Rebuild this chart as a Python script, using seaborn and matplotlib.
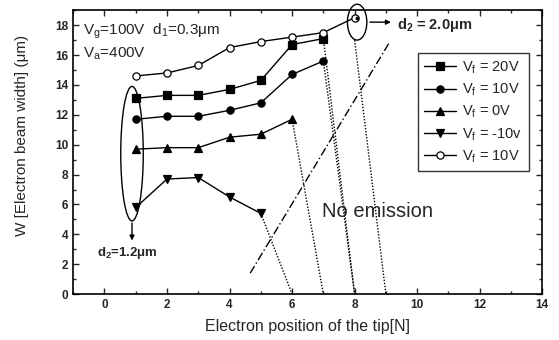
import matplotlib
matplotlib.use("Agg")
import matplotlib.pyplot as plt
from matplotlib.patches import Ellipse
from matplotlib.ticker import MultipleLocator
import seaborn as sns
import pandas as pd

sns.set_theme(style="ticks")
plt.rcParams['font.family'] = ['Liberation Sans', 'DejaVu Sans']
plt.rcParams['mathtext.fontset'] = 'custom'
plt.rcParams['mathtext.rm'] = 'Liberation Sans'
plt.rcParams['mathtext.it'] = 'Liberation Sans'

# Data
x_20 = [1, 2, 3, 4, 5, 6, 7]
w_20 = [13.1, 13.3, 13.3, 13.7, 14.3, 16.7, 17.1]
x_10 = [1, 2, 3, 4, 5, 6, 7]
w_10 = [11.7, 11.9, 11.9, 12.3, 12.8, 14.7, 15.6]
x_0 = [1, 2, 3, 4, 5, 6]
w_0 = [9.7, 9.8, 9.8, 10.5, 10.7, 11.7]
x_m10 = [1, 2, 3, 4, 5]
w_m10 = [5.8, 7.7, 7.8, 6.5, 5.4]
x_open = [1, 2, 3, 4, 5, 6, 7, 8]
w_open = [14.6, 14.8, 15.3, 16.5, 16.9, 17.2, 17.5, 18.5]
labels = ["$\\mathregular{V_f}$ = 20V", "$\\mathregular{V_f}$ = 10V", "$\\mathregular{V_f}$ = 0V",
          "$\\mathregular{V_f}$ = -10v", "$\\mathregular{V_f}$ = 10V"]

# cut-off (no emission) dotted lines: start point -> end point
cut_start_x = [5, 6, 7, 7, 8]
cut_start_y = [5.4, 11.7, 15.6, 17.1, 17.0]
cut_end_x = [6, 7, 8, 8, 9]
cut_end_y = [0, 0, 0, 0, 0]
# boundary dash-dot line
bound_x = [4.66, 9.1]
bound_y = [1.4, 16.8]

fig = plt.figure(figsize=(5.59, 3.40), dpi=100)
ax = fig.add_axes([0.131, 0.135, 0.839, 0.835])

series = [
    (x_20, w_20, 's', 'black'),
    (x_10, w_10, 'o', 'black'),
    (x_0, w_0, '^', 'black'),
    (x_m10, w_m10, 'v', 'black'),
    (x_open, w_open, 'o', 'white'),
]
for (xs, ys, m, fc), lab in zip(series, labels):
    df = pd.DataFrame({"x": xs, "y": ys})
    sns.lineplot(data=df, x="x", y="y", ax=ax, color='black', lw=1.0,
                 marker=m, markersize=5.2, markerfacecolor=fc,
                 markeredgecolor='black', markeredgewidth=0.9, label=lab)

for sx, sy, ex, ey in zip(cut_start_x, cut_start_y, cut_end_x, cut_end_y):
    ax.plot([sx, ex], [sy, ey], color='black', ls=(0, (1, 1.2)), lw=1.0)
ax.plot(bound_x, bound_y, color='black', ls=(0, (6, 2, 1, 2)), lw=1.0)

# ellipses
ax.add_patch(Ellipse((0.88, 9.4), 0.72, 9.0, fill=False, ec='black', lw=1.0))
ax.add_patch(Ellipse((8.08, 18.2), 0.62, 2.4, fill=False, ec='black', lw=1.0, clip_on=False))
ax.plot([8.08], [18.5], marker='o', ms=1.8, color='black')
ax.annotate("", xy=(0.88, 3.4), xytext=(0.88, 4.95),
            arrowprops=dict(arrowstyle='-|>', color='black', lw=1.0, mutation_scale=7))
ax.annotate("", xy=(9.25, 18.2), xytext=(8.4, 18.2),
            arrowprops=dict(arrowstyle='-|>', color='black', lw=1.0, mutation_scale=7))

ax.text(-0.25, 2.75, "$\\mathregular{d_2}$=1.2μm", fontsize=9.5, fontweight='bold', va='center')
ax.text(9.35, 18.0, "$\\mathregular{d_2}$ = 2.0μm", fontsize=10.5, fontweight='bold', va='center')
ax.text(-0.68, 17.6, "$\\mathregular{V_g}$=100V  $\\mathregular{d_1}$=0.3μm", fontsize=11, va='center')
ax.text(-0.68, 16.1, "$\\mathregular{V_a}$=400V", fontsize=11, va='center')
ax.text(6.95, 5.5, "No emission", fontsize=14.5, va='center')

ax.set_xlim(-1, 14)
ax.set_ylim(0, 19)
ax.xaxis.set_major_locator(MultipleLocator(2))
ax.xaxis.set_minor_locator(MultipleLocator(1))
ax.yaxis.set_major_locator(MultipleLocator(2))
ax.yaxis.set_minor_locator(MultipleLocator(1))
ax.tick_params(which='both', direction='in', top=True, right=True, labelsize=8.5, width=1.0)
ax.tick_params(which='major', length=4)
ax.tick_params(which='minor', length=2)
for lbl in ax.get_xticklabels() + ax.get_yticklabels():
    lbl.set_fontweight('bold')
for s in ax.spines.values():
    s.set_linewidth(1.2)
    s.set_color('black')

ax.set_xlabel("Electron position of the tip[N]", fontsize=11.5, labelpad=6)
ax.set_ylabel("W [Electron beam width] (μm)", fontsize=11, labelpad=6)
ax.yaxis.set_label_coords(-0.095, 0.56)

leg = ax.legend(loc='upper right', bbox_to_anchor=(0.987, 0.875), fontsize=10.5,
                frameon=True, fancybox=False, edgecolor='black', handlelength=2.2,
                handletextpad=0.4, labelspacing=0.4, borderpad=0.45)
leg.get_frame().set_linewidth(1.0)

fig.savefig("out.png", dpi=100)
